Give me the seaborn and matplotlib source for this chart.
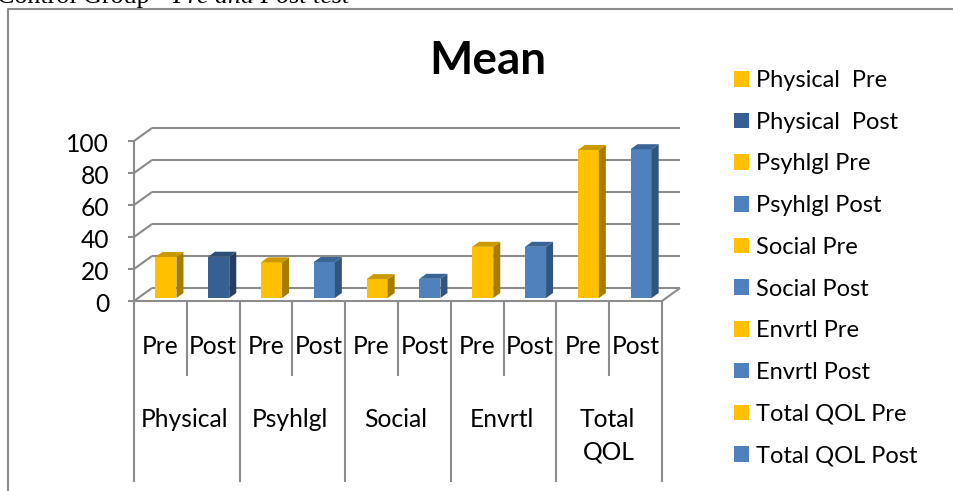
#!/usr/bin/env python3
# Control group mean, pre and post test - faux 3D columns
import seaborn as sns
import matplotlib
matplotlib.use('Agg')
from matplotlib import pyplot as plt
from matplotlib.patches import Polygon
from matplotlib.transforms import Affine2D
from matplotlib.lines import Line2D

series = ['Physical  Pre', 'Physical  Post', 'Psyhlgl Pre', 'Psyhlgl Post', 'Social Pre',
          'Social Post', 'Envrtl Pre', 'Envrtl Post', 'Total QOL Pre', 'Total QOL Post']
means = [25.6, 25.8, 22.3, 22.5, 11.8, 12, 32, 32, 92.5, 93]
phases = ['Pre', 'Post'] * 5
groups = ['Physical', 'Psyhlgl', 'Social', 'Envrtl', 'Total\nQOL']
yticks = [0, 20, 40, 60, 80, 100]

colours = ['#FFC000', '#376092', '#FFC000', '#4F81BD', '#FFC000',
           '#4F81BD', '#FFC000', '#4F81BD', '#FFC000', '#4F81BD']
side = {'#FFC000': '#A67D00', '#376092': '#243F60', '#4F81BD': '#2F5580'}
top = {'#FFC000': '#CC9A00', '#376092': '#2C4D75', '#4F81BD': '#3A6496'}

W, H = 954, 491
grey = '#8C8C8C'
font = 'Lato'
fs = 17.7

sns.set_style('white')
plt.rcParams['font.family'] = [font, 'DejaVu Sans']

fig = plt.figure(figsize=(W / 100, H / 100), dpi=100)
# front plane of the box, in pixels
x0, x1, y0, y1 = 134, 662, 301, 141
ax = fig.add_axes([x0 / W, 1 - y0 / H, (x1 - x0) / W, (y0 - y1) / H])
sns.barplot(x=series, y=means, hue=series, palette=colours, dodge=False, width=0.4,
            legend=True, ax=ax, zorder=3, saturation=1, linewidth=0)
ax.set_xlim(-0.5, 9.5)
ax.set_ylim(0, 100)
ax.set_xticks([])
ax.set_yticks([])
ax.set_xlabel('')
ax.set_ylabel('')
sns.despine(ax=ax, left=True, bottom=True)
handles, labels = ax.get_legend_handles_labels()
ax.get_legend().remove()

# depth of the floor and of a bar, pixels -> data
px_x = 10 / (x1 - x0)
px_y = 100 / (y0 - y1)
dx_wall, dy_wall = 18 * px_x, 13 * px_y
dx_bar, dy_bar = 7 * px_x, 5 * px_y
shift_x, shift_y = 5.5 * px_x, 3 * px_y

kw = dict(color=grey, lw=1.5, clip_on=False, zorder=1, solid_capstyle='butt')
for t in yticks:
    ax.plot([-0.5 - 6 * px_x, -0.5, -0.5 + dx_wall], [t, t, t + dy_wall], **kw)
    ax.plot([-0.5 + dx_wall, 9.5 + dx_wall], [t + dy_wall] * 2, **kw)
    ax.text(-0.5 - 25 * px_x, t - 3 * px_y, str(t), ha='right', va='center', fontsize=fs,
            color='black')
ax.plot([-0.5, -0.5], [0, 100], **kw)
ax.plot([-0.5, 9.5, 9.5 + dx_wall], [0, 0, dy_wall], **kw)

# bars: move to mid depth, add side and top faces
for bar, c in zip([p for p in ax.patches if p.get_height() > 0], colours):
    xb, w, h = bar.get_x(), bar.get_width(), bar.get_height()
    bar.set_transform(Affine2D().translate(shift_x, shift_y) + ax.transData)
    bar.set_clip_on(False)
    l, r, b = xb + shift_x, xb + w + shift_x, shift_y
    t = h + shift_y
    ax.add_patch(Polygon([(r, b), (r + dx_bar, b + dy_bar), (r + dx_bar, t + dy_bar), (r, t)],
                         fc=side[c], ec='none', zorder=3, clip_on=False))
    ax.add_patch(Polygon([(l, t), (r, t), (r + dx_bar, t + dy_bar), (l + dx_bar, t + dy_bar)],
                         fc=top[c], ec='none', zorder=3, clip_on=False))

# multi level category axis below the floor
short = -75 * px_y
long = -181 * px_y
for i in range(11):
    edge = i - 0.5
    ax.plot([edge, edge], [0, long if i % 2 == 0 else short], **kw)
for i, name in enumerate(phases):
    ax.text(i, -45 * px_y, name, ha='center', va='center', fontsize=fs, color='black')
for i, name in enumerate(groups):
    ax.text(2 * i + 0.5 - 2 * px_x, -119 * px_y, name.split('\n')[0], ha='center', va='center',
            fontsize=fs, color='black')
    if '\n' in name:
        ax.text(2 * i + 0.5, -151 * px_y, name.split('\n')[1], ha='center', va='center',
                fontsize=fs, color='black')

fig.text(488 / W, 1 - 61 / H, 'Mean', ha='center', va='center', fontsize=33, fontweight='bold',
         color='black')
fig.legend(handles, labels, loc='upper left', bbox_to_anchor=(734 / W, 1 - 70 / H),
           frameon=False, fontsize=17, handlelength=0.64, handleheight=0.64, handletextpad=0.3,
           labelspacing=0.877, borderpad=0, borderaxespad=0, labelcolor='black')

# page furniture: chart border and clipped caption above it
fig.add_artist(Line2D([8 / W, 8 / W, 1], [0, 1 - 9 / H, 1 - 9 / H], color=grey, lw=1.5))
fig.text(165 / W, 1 - 3 / H, 'Control Group -', ha='right', va='baseline', fontsize=18.7,
         family='Liberation Serif', color='black')
fig.text(172 / W, 1 - 3 / H, 'Pre and Post test', ha='left', va='baseline', fontsize=18.7,
         family='Liberation Serif', style='italic', color='black')

fig.savefig('out.png', dpi=100)
